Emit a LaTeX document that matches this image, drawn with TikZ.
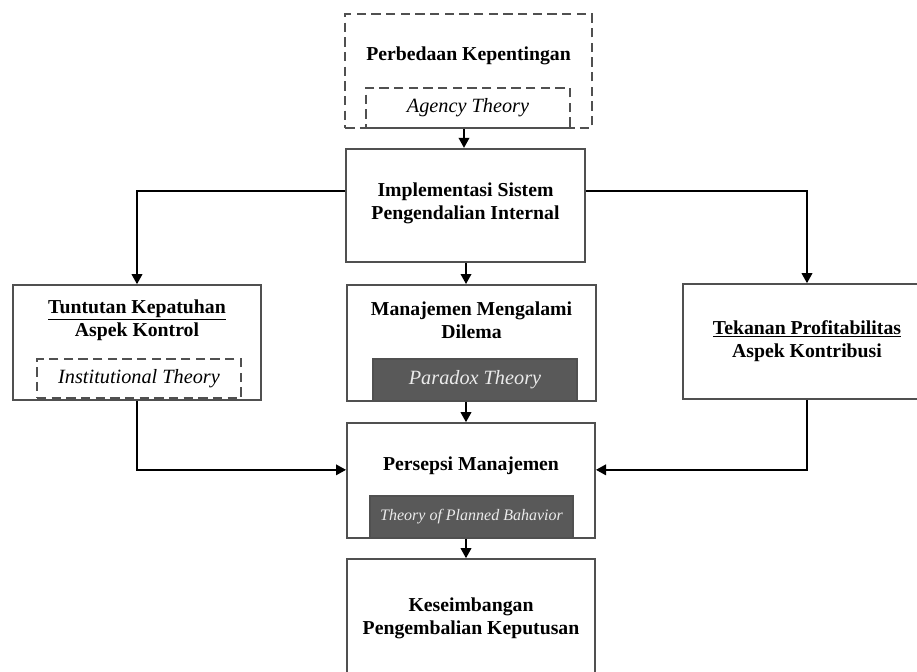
\documentclass[tikz,border=0pt]{standalone}
\usepackage{fontspec}
\setmainfont{Liberation Serif}
\usetikzlibrary{arrows.meta, positioning}
\definecolor{boxline}{HTML}{505050}
\definecolor{darkfill}{HTML}{595959}

\begin{document}
\begin{tikzpicture}[
        x=0.75pt, y=-0.75pt,
        box/.style={rectangle, draw=boxline, line width=1.5pt, minimum width=186pt, minimum height=86pt, inner sep=0pt},
        dashbox/.style={rectangle, draw=boxline, dashed, dash pattern=on 7pt off 4pt, line width=1.4pt, inner sep=0pt},
        darkbox/.style={rectangle, draw=boxline, fill=darkfill, line width=1.2pt, inner sep=0pt, text=white!92!black},
        title/.style={align=center, font=\fontsize{14.8}{17.25}\selectfont\bfseries},
        theory/.style={font=\fontsize{15.2}{16}\selectfont\itshape},
        arrow/.style={-{Triangle[length=7.5pt, width=8pt]}, line width=1.1pt}
    ]
        \useasboundingbox (0,0) rectangle (917,671);
        \clip (0,0) rectangle (917,671);
        \coordinate (colA) at (464,0);
        \coordinate (colB) at (466,0);

        % top
        \node[dashbox, minimum width=185pt, minimum height=85.5pt] (perbedaan) at (468.5,71) {};
        \node[title] (perbedaanT) at (468.5,56) {Perbedaan Kepentingan};
        \node[dashbox, theory, minimum width=153pt, minimum height=30pt] (agency) at (468,108) {Agency Theory};

        \node[box, minimum width=179pt, minimum height=85pt] (implementasi) at (465.5,205.5) {};
        \node[title] (implementasiT) at (465.5,203) {Implementasi Sistem\\Pengendalian Internal};

        % middle row
        \node[box] (tuntutan) at (137,342.5) {};
        \node[title] (tuntutanT) at (137,320) {\underline{Tuntutan Kepatuhan}\\Aspek Kontrol};
        \node[dashbox, theory, minimum width=153pt, minimum height=29pt] (institutional) at (139,378.5) {Institutional Theory};

        \node[box, minimum width=187pt, minimum height=87pt] (dilema) at (471.5,343) {};
        \node[title] (dilemaT) at (471.5,320) {Manajemen Mengalami\\Dilema};
        \node[darkbox, theory, minimum width=153pt, minimum height=31.5pt] (paradox) at (475,380) {Paradox Theory};

        \node[box] (tekanan) at (807,341.5) {};
        \node[title] (tekananT) at (807,341) {\underline{Tekanan Profitabilitas}\\Aspek Kontribusi};

        % bottom
        \node[box] (persepsi) at (471,480.5) {};
        \node[title] (persepsiT) at (471,466) {Persepsi Manajemen};
        \node[darkbox, font=\fontsize{12}{13}\selectfont\itshape, minimum width=152pt, minimum height=31.5pt] (tpb) at (471.5,517) {Theory of Planned Bahavior};

        \node[box] (keseimbangan) at (471,616.5) {};
        \node[title] (keseimbanganT) at (471,618) {Keseimbangan\\Pengembalian Keputusan};

        % connectors
        \draw[arrow] (perbedaan.south -| colA) -- (implementasi.north -| colA);
        \draw[arrow] ([yshift=11pt]implementasi.west) -| (tuntutan.north);
        \draw[arrow] ([yshift=11pt]implementasi.east) -| (tekanan.north);
        \draw[arrow] (implementasi.south -| colB) -- (dilema.north -| colB);
        \draw[arrow] (paradox.south -| colB) -- (persepsi.north -| colB);
        \draw[arrow] (tuntutan.south) |- ([yshift=8pt]persepsi.west);
        \draw[arrow] (tekanan.south) |- ([yshift=8pt]persepsi.east);
        \draw[arrow] (tpb.south -| colB) -- (keseimbangan.north -| colB);
    \end{tikzpicture}
\end{document}
